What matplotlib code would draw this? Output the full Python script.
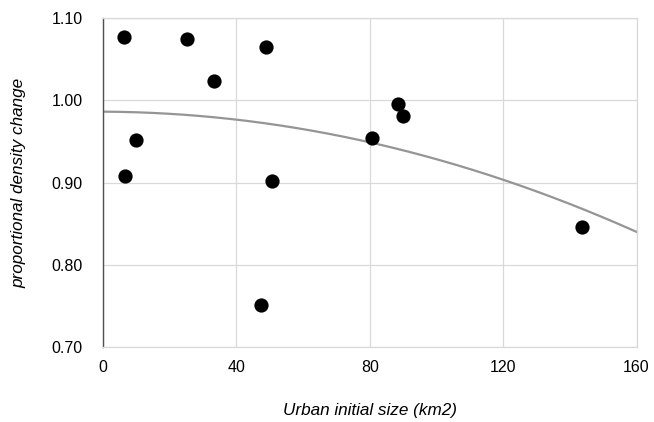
import numpy as np
import matplotlib.pyplot as plt

plt.rcParams['font.family'] = ['Liberation Sans', 'DejaVu Sans']

# urban initial size (km2) and proportional density change
size_km2 = [6.3, 25.3, 49.0, 33.2, 9.9, 6.7, 50.8, 47.5, 88.4, 90.0, 80.6, 143.8]
density_change = [1.077, 1.0745, 1.065, 1.023, 0.952, 0.908, 0.902, 0.751, 0.996, 0.981, 0.9545, 0.8455]

x_ticks = [0, 40, 80, 120, 160]
y_ticks = [0.70, 0.80, 0.90, 1.00, 1.10]

fig = plt.figure()
fig.set_size_inches(6.54, 4.22)
ax = fig.add_axes([103 / 654, 1 - 347 / 422, 533.5 / 654, 329 / 422])

# 2nd order polynomial trend line
coef = np.polyfit(size_km2, density_change, 2)
xs = np.linspace(0, 160, 200)
ax.plot(xs, np.polyval(coef, xs), color='#959595', lw=1.6, zorder=2)

ax.scatter(size_km2, density_change, s=105, color='black', zorder=3, linewidths=0)

ax.set_xlim(0, 160)
ax.set_ylim(0.70, 1.10)
ax.set_xticks(x_ticks)
ax.set_yticks(y_ticks)
ax.set_xticklabels(['%d' % t for t in x_ticks])
ax.set_yticklabels(['%.2f' % t for t in y_ticks])
ax.grid(True, color='#d9d9d9', lw=0.9, zorder=0)
ax.set_axisbelow(True)
for s in ['top', 'right', 'bottom']:
    ax.spines[s].set_color('#d9d9d9')
    ax.spines[s].set_linewidth(0.9)
ax.spines['left'].set_color('#505050')
ax.spines['left'].set_linewidth(1.0)
ax.tick_params(length=0, labelsize=11.5, colors='black')
ax.tick_params(axis='x', pad=9.5)
ax.tick_params(axis='y', pad=14.5)
ax.set_xlabel('Urban initial size (km2)', fontsize=12.3, style='italic', labelpad=20)
ax.set_ylabel('proportional density change', fontsize=12.3, style='italic', labelpad=18)

plt.savefig('out.png', dpi=100)
